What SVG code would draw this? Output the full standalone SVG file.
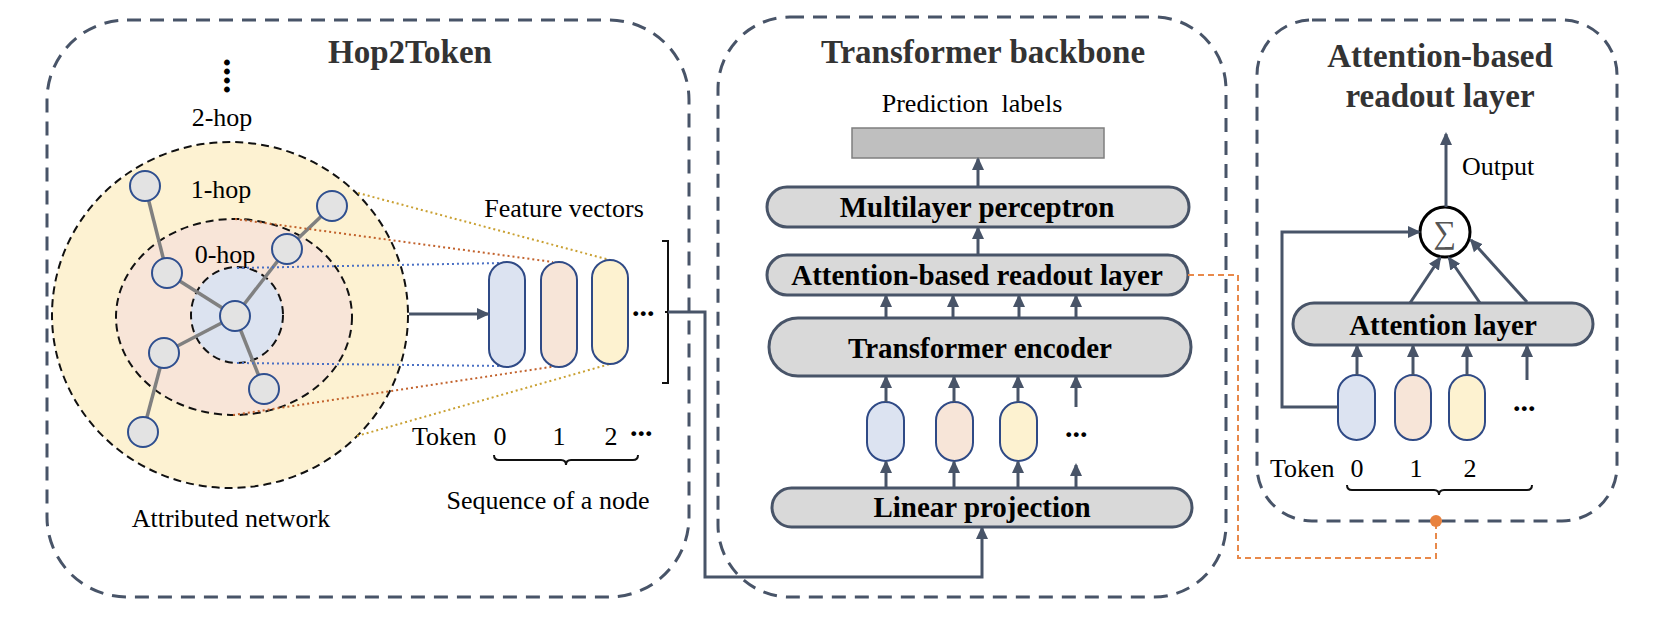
<svg xmlns="http://www.w3.org/2000/svg" width="1654" height="644" viewBox="0 0 1654 644">
<defs>
<marker id="ah" markerUnits="userSpaceOnUse" markerWidth="14" markerHeight="14" viewBox="0 0 14 14" refX="11" refY="7" orient="auto">
<path d="M0,1 L13,7 L0,13 z" fill="#485468"/>
</marker>
</defs>
<style>
.panel{fill:none;stroke:#485468;stroke-width:3;stroke-dasharray:14 9}
.t{font-family:"Liberation Serif","Times New Roman",serif;fill:#000}
.reg{font-size:26px}
.title{font-size:33px;font-weight:bold;fill:#333}
.lbl{font-size:29px;font-weight:bold;text-anchor:middle}
.dots{font-size:30px;font-weight:bold}
.ring{stroke:#111;stroke-width:2;stroke-dasharray:8 5}
.edge{stroke:#808080;stroke-width:3.5}
.node{fill:#e3e3e3;stroke:#2f4f8f;stroke-width:2}
.box{fill:#d9d9d9;stroke:#485468;stroke-width:3}
.arr{stroke:#485468;stroke-width:3;fill:none;marker-end:url(#ah)}
.cap{stroke:#2f4a86;stroke-width:2}
.c0{fill:#dce3f1}.c1{fill:#f7e5d8}.c2{fill:#fdf2d0}
.dot{fill:none;stroke-width:2;stroke-dasharray:2 3}
.brace{fill:none;stroke:#111;stroke-width:2}
.orange{fill:none;stroke:#e8894a;stroke-width:2;stroke-dasharray:6 4}
</style>

<g id="panel-hop2token">
<rect class="panel" x="47" y="20" width="642" height="577" rx="80"/>
<text class="t title" x="410" y="63" text-anchor="middle">Hop2Token</text>
<text class="t" x="224" y="58" font-size="36" font-weight="bold" transform="rotate(90 224 58)">....</text>
<text class="t reg" x="222" y="126" text-anchor="middle">2-hop</text>
</g>

<g id="attributed-network">
<ellipse class="ring" cx="230" cy="315" rx="178" ry="173" fill="#fdf2d2"/>
<ellipse class="ring" cx="234" cy="317" rx="118" ry="98" fill="#f8e5d8"/>
<ellipse class="ring" cx="237" cy="315" rx="46" ry="48" fill="#dce3f0"/>
<text class="t reg" x="221" y="198" text-anchor="middle">1-hop</text>
<text class="t reg" x="225" y="263" text-anchor="middle">0-hop</text>
<g id="graph-edges">
<line class="edge" x1="145" y1="186" x2="167" y2="273"/>
<line class="edge" x1="167" y1="273" x2="235" y2="316"/>
<line class="edge" x1="235" y1="316" x2="287" y2="249"/>
<line class="edge" x1="287" y1="249" x2="332" y2="206"/>
<line class="edge" x1="235" y1="316" x2="164" y2="353"/>
<line class="edge" x1="164" y1="353" x2="143" y2="432"/>
<line class="edge" x1="235" y1="316" x2="264" y2="389"/>
</g>
<circle class="node" cx="145" cy="186" r="15"/>
<circle class="node" cx="332" cy="206" r="15"/>
<circle class="node" cx="287" cy="249" r="15"/>
<circle class="node" cx="167" cy="273" r="15"/>
<circle class="node" cx="235" cy="316" r="15"/>
<circle class="node" cx="164" cy="353" r="15"/>
<circle class="node" cx="264" cy="389" r="15" stroke="#4a72c4"/>
<circle class="node" cx="143" cy="432" r="15" stroke="#4a72c4"/>
<text class="t reg" x="231" y="527" text-anchor="middle">Attributed network</text>
</g>

<g id="projection-lines">
<line class="dot" stroke="#c9a032" x1="358" y1="193" x2="610" y2="260"/>
<line class="dot" stroke="#c9a032" x1="357" y1="436" x2="610" y2="364"/>
<line class="dot" stroke="#c2622c" x1="235" y1="219" x2="553" y2="262"/>
<line class="dot" stroke="#c2622c" x1="233" y1="415" x2="557" y2="366"/>
<line class="dot" stroke="#4a70c4" x1="237" y1="268" x2="502" y2="263"/>
<line class="dot" stroke="#4a70c4" x1="237" y1="363" x2="502" y2="366"/>
</g>

<g id="feature-vectors">
<text class="t reg" x="564" y="217" text-anchor="middle">Feature vectors</text>
<rect class="cap c0" x="489" y="262" width="36" height="105" rx="18"/>
<rect class="cap c1" x="541" y="262" width="36" height="105" rx="18"/>
<rect class="cap c2" x="592" y="260" width="36" height="104" rx="18"/>
<text class="t dots" x="632" y="316">...</text>
<path class="brace" d="M662,241 H668 V383 H662 M665,312 H668"/>
<text class="t reg" x="412" y="445">Token</text>
<text class="t reg" x="500" y="445" text-anchor="middle">0</text>
<text class="t reg" x="559" y="445" text-anchor="middle">1</text>
<text class="t reg" x="611" y="445" text-anchor="middle">2</text>
<text class="t dots" x="630" y="436">...</text>
<path class="brace" d="M494,455 Q494,460 499,460 H561 Q566,460 566,465 Q566,460 571,460 H633 Q638,460 638,455"/>
<text class="t reg" x="548" y="509" text-anchor="middle">Sequence of a node</text>
</g>

<g id="panel-transformer">
<rect class="panel" x="718" y="17" width="508" height="580" rx="72"/>
<text class="t title" x="983" y="63" text-anchor="middle">Transformer backbone</text>
</g>
<g id="prediction-labels">
<text class="t reg" x="972" y="112" text-anchor="middle" xml:space="preserve">Prediction  labels</text>
<rect x="852" y="128" width="252" height="30" fill="#bfbfbf" stroke="#7f7f7f" stroke-width="1.5"/>
</g>
<g id="mlp">
<rect class="box" x="767" y="187" width="422" height="40" rx="20"/>
<text class="t lbl" x="977" y="217">Multilayer perceptron</text>
</g>
<g id="readout-mid">
<rect class="box" x="767" y="255" width="421" height="40" rx="20" fill="#f9db7b"/>
<text class="t lbl" x="977" y="285">Attention-based readout layer</text>
</g>
<g id="encoder">
<rect class="box" x="769" y="318" width="422" height="58" rx="29"/>
<text class="t lbl" x="980" y="358">Transformer encoder</text>
</g>
<g id="mid-tokens">
<rect class="cap c0" x="867" y="402" width="37" height="59" rx="18.5"/>
<rect class="cap c1" x="936" y="402" width="37" height="59" rx="18.5"/>
<rect class="cap c2" x="1000" y="402" width="37" height="59" rx="18.5"/>
<text class="t dots" x="1065" y="437">...</text>
</g>
<g id="linear">
<rect class="box" x="772" y="488" width="420" height="39" rx="19.5"/>
<text class="t lbl" x="982" y="517">Linear projection</text>
</g>

<g id="panel-readout">
<rect class="panel" x="1257" y="20" width="360" height="501" rx="55"/>
<text class="t title" x="1440" y="67" text-anchor="middle">Attention-based</text>
<text class="t title" x="1440" y="107" text-anchor="middle">readout layer</text>
<text class="t reg" x="1462" y="175">Output</text>
</g>
<g id="sum">
<circle cx="1445" cy="232" r="25" fill="#fff" stroke="#000" stroke-width="3"/>
<text x="1445" y="243" text-anchor="middle" font-family="'Liberation Serif','DejaVu Serif',serif" font-size="32" fill="#555">∑</text>
</g>
<g id="attention-layer">
<rect class="box" x="1293" y="303" width="300" height="42" rx="21"/>
<text class="t lbl" x="1443" y="335">Attention layer</text>
</g>
<g id="right-tokens">
<rect class="cap c0" x="1338" y="375" width="37" height="65" rx="18.5"/>
<rect class="cap c1" x="1395" y="375" width="36" height="65" rx="18"/>
<rect class="cap c2" x="1449" y="375" width="36" height="65" rx="18"/>
<text class="t dots" x="1513" y="411">...</text>
<text class="t reg" x="1270" y="477">Token</text>
<text class="t reg" x="1357" y="477" text-anchor="middle">0</text>
<text class="t reg" x="1416" y="477" text-anchor="middle">1</text>
<text class="t reg" x="1470" y="477" text-anchor="middle">2</text>
<path class="brace" d="M1347,485 Q1347,490 1352,490 H1434 Q1439,490 1439,495 Q1439,490 1444,490 H1527 Q1532,490 1532,485"/>
</g>

<g id="connectors">
<line class="arr" x1="409" y1="314" x2="488" y2="314"/>
<path class="arr" d="M668,312 H705 V577 H982 V528"/>
<line class="arr" x1="978" y1="187" x2="978" y2="159"/>
<line class="arr" x1="978" y1="255" x2="978" y2="228"/>
<line class="arr" x1="886" y1="318" x2="886" y2="296"/>
<line class="arr" x1="953" y1="318" x2="953" y2="296"/>
<line class="arr" x1="1019" y1="318" x2="1019" y2="296"/>
<line class="arr" x1="1076" y1="318" x2="1076" y2="296"/>
<line class="arr" x1="886" y1="402" x2="886" y2="377"/>
<line class="arr" x1="954" y1="402" x2="954" y2="377"/>
<line class="arr" x1="1018" y1="402" x2="1018" y2="377"/>
<line class="arr" x1="1076" y1="407" x2="1076" y2="377"/>
<line class="arr" x1="886" y1="488" x2="886" y2="462"/>
<line class="arr" x1="954" y1="488" x2="954" y2="462"/>
<line class="arr" x1="1018" y1="488" x2="1018" y2="462"/>
<line class="arr" x1="1076" y1="488" x2="1076" y2="465"/>
<line class="arr" x1="1446" y1="207" x2="1446" y2="134"/>
<path class="arr" d="M1338,407 H1282 V232 H1419"/>
<line class="arr" x1="1410" y1="303" x2="1440" y2="258"/>
<line class="arr" x1="1480" y1="303" x2="1449" y2="258"/>
<line class="arr" x1="1527" y1="302" x2="1471" y2="240"/>
<line class="arr" x1="1357" y1="375" x2="1357" y2="346"/>
<line class="arr" x1="1413" y1="375" x2="1413" y2="346"/>
<line class="arr" x1="1467" y1="375" x2="1467" y2="346"/>
<line class="arr" x1="1527" y1="380" x2="1527" y2="346"/>
<path class="orange" d="M1188,275 H1238 V558 H1436 V521"/>
<circle cx="1436" cy="521" r="6" fill="#e8823f"/>
</g>
</svg>
